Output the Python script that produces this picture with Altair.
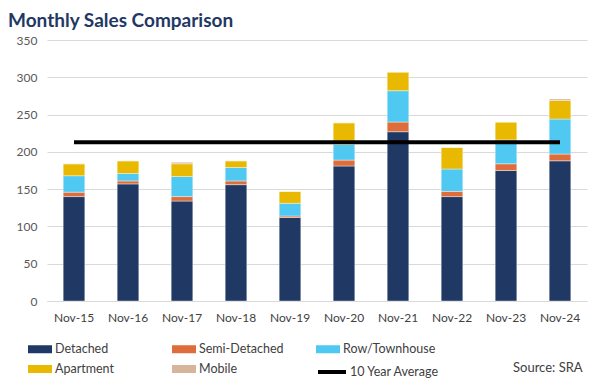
import altair as alt
import pandas as pd

months = ["Nov-15", "Nov-16", "Nov-17", "Nov-18", "Nov-19",
          "Nov-20", "Nov-21", "Nov-22", "Nov-23", "Nov-24"]
detached = [140, 157, 134, 156, 112, 181, 227, 140, 175, 188]
semi_detached = [6, 4, 6, 5, 2, 8, 13, 7, 9, 9]
row_townhouse = [22, 10, 27, 18, 17, 21, 42, 30, 32, 47]
apartment = [16, 17, 17, 9, 16, 29, 25, 29, 24, 25]
mobile = [0, 0, 2, 0, 0, 0, 0, 0, 0, 2]
types = ["Detached", "Semi-Detached", "Row/Townhouse", "Apartment", "Mobile"]
colors = ["#1F3864", "#DD6D3B", "#4FC8F2", "#E8B900", "#D6B59C"]
ten_year_avg = 213
avg_label = "10 Year Average"
source_text = "Source: SRA"
y_ticks = [0, 50, 100, 150, 200, 250, 300, 350]

FONT = "Lato"

series = [detached, semi_detached, row_townhouse, apartment, mobile]
records = []
for i, m in enumerate(months):
    for j, t in enumerate(types):
        records.append({"month": m, "type": t, "order": j, "value": series[j][i]})
df = pd.DataFrame(records)

avg_df = pd.DataFrame([{"start": months[0], "end": months[-1], "value": ten_year_avg, "label": avg_label}])
src_df = pd.DataFrame([{"text": source_text}])

x_enc = alt.X("month:N", sort=months, title=None,
              scale=alt.Scale(paddingInner=0.6, paddingOuter=0.3),
              axis=alt.Axis(labelAngle=0, ticks=False, domainColor="#D9D9D9",
                            labelColor="#404040", labelFontSize=12, labelPadding=11,
                            labelFont=FONT))
y_scale = alt.Scale(domain=[0, 350])
y_axis = alt.Axis(values=y_ticks, domain=False, ticks=False, labelOverlap=False,
                  gridColor="#D9D9D9", labelColor="#595959",
                  labelFontSize=12, labelPadding=10, labelFont=FONT)

bars = alt.Chart(df).mark_bar(stroke="white", strokeWidth=0.4).encode(
    x=x_enc,
    y=alt.Y("value:Q", stack="zero", scale=y_scale, title=None, axis=y_axis),
    fill=alt.Fill("type:N", scale=alt.Scale(domain=types, range=colors),
                  legend=alt.Legend(orient="none", legendX=-19, legendY=301,
                                    direction="horizontal", columns=3, title=None,
                                    symbolType="M-1.5,-0.5H1.5V0.5H-1.5Z", symbolSize=256,
                                    symbolStrokeWidth=0, symbolOffset=4,
                                    labelFontSize=12.5,
                                    labelColor="#404040", labelFont=FONT,
                                    columnPadding=24, rowPadding=5, gridAlign="all",
                                    labelOffset=7)),
    order=alt.Order("order:Q"),
)

avg_rule = alt.Chart(avg_df).mark_rule(strokeWidth=4).encode(
    x=alt.X("start:N", sort=months),
    x2="end:N",
    y=alt.Y("value:Q", scale=y_scale, title=None, axis=y_axis),
    stroke=alt.Stroke("label:N", scale=alt.Scale(domain=[avg_label], range=["black"]),
                      legend=alt.Legend(orient="none", legendX=269, legendY=316,
                                        title=None, symbolType="stroke", symbolSize=784,
                                        symbolStrokeWidth=4, labelFontSize=12.5,
                                        labelColor="#404040", labelFont=FONT,
                                        labelOffset=2)),
)

src = alt.Chart(src_df).mark_text(align="left", baseline="middle", fontSize=13,
                                  color="#404040", font=FONT).encode(
    x=alt.value(466), y=alt.value(328), text="text:N")

chart = alt.layer(bars, avg_rule, src).properties(
    width=540, height=261,
    autosize=alt.AutoSizeParams(type="none"),
    padding={"left": 39, "top": 32, "right": 5, "bottom": 90},
    title=alt.TitleParams("Monthly Sales Comparison", anchor="start", frame="group",
                          dx=-39, fontSize=19, font=FONT, fontWeight="bold",
                          color="#1F3864", offset=3),
).configure_view(stroke=None).resolve_scale(fill="independent", stroke="independent")

chart.save("out.html", embed_options={"renderer": "svg", "actions": False})
